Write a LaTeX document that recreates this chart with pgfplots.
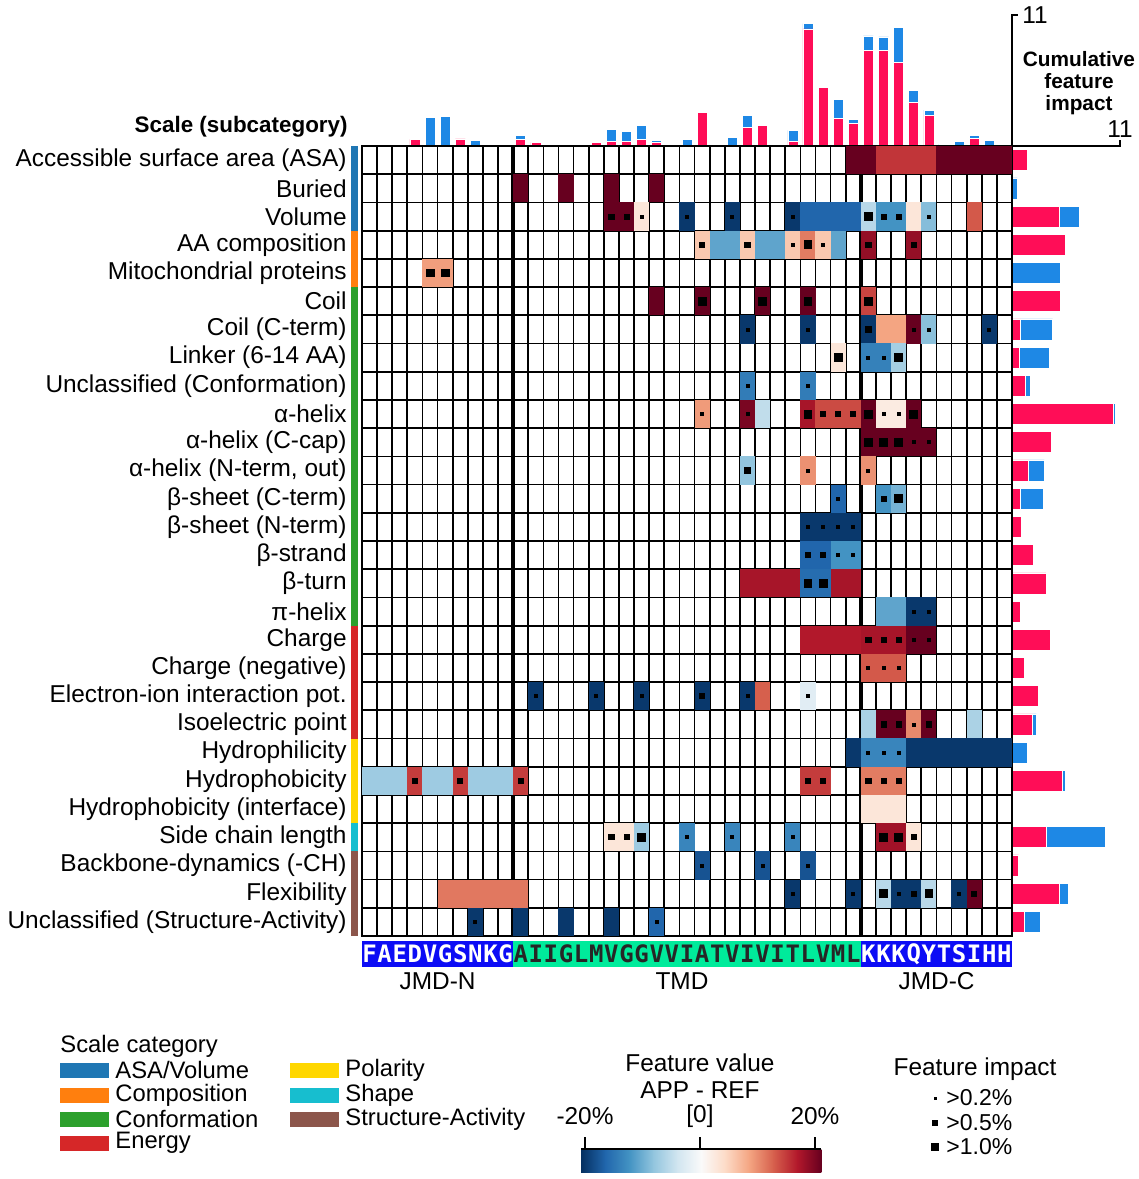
\documentclass[border=0pt]{standalone}
\usepackage{fontspec}
\setmainfont{Liberation Sans}
\setmonofont{DejaVu Sans Mono}
\usepackage{pgfplots}
\usepackage{pgfplotstable}
\pgfplotsset{compat=1.18}

\definecolor{shappink}{RGB}{255,13,87}
\definecolor{shapblue}{RGB}{30,136,229}
\definecolor{catasa}{RGB}{31,119,180}
\definecolor{catcomp}{RGB}{255,127,14}
\definecolor{catconf}{RGB}{44,160,44}
\definecolor{catener}{RGB}{214,39,40}
\definecolor{catpol}{RGB}{255,215,0}
\definecolor{catshape}{RGB}{23,190,207}
\definecolor{catsa}{RGB}{140,86,75}
\definecolor{jmdblue}{RGB}{12,12,245}
\definecolor{tmdgreen}{RGB}{0,235,155}
\definecolor{rb0}{RGB}{5,48,97}
\definecolor{rb1}{RGB}{33,102,172}
\definecolor{rb2}{RGB}{67,147,195}
\definecolor{rb3}{RGB}{146,197,222}
\definecolor{rb4}{RGB}{209,229,240}
\definecolor{rb5}{RGB}{250,250,250}
\definecolor{rb6}{RGB}{253,219,199}
\definecolor{rb7}{RGB}{244,165,130}
\definecolor{rb8}{RGB}{214,96,77}
\definecolor{rb9}{RGB}{178,24,43}
\definecolor{rb10}{RGB}{103,0,31}

\pgfplotsset{colormap={rdbu}{rgb255=(5,48,97) rgb255=(33,102,172) rgb255=(67,147,195) rgb255=(146,197,222) rgb255=(209,229,240) rgb255=(250,250,250) rgb255=(253,219,199) rgb255=(244,165,130) rgb255=(214,96,77) rgb255=(178,24,43) rgb255=(103,0,31)}}

\pgfdeclareplotmark{cell}{%
  \pgfpathrectangle{\pgfqpoint{-3.8pt}{-7.07pt}}{\pgfqpoint{7.6pt}{14.14pt}}%
  \pgfusepathqfill}

\pgfplotstableread{
r c v
0 32 1
0 33 1
0 34 0.72
0 35 0.72
0 36 0.72
0 37 0.72
0 38 1
0 39 1
0 40 1
0 41 1
0 42 1
1 10 1
1 13 1
1 16 1
1 19 1
2 16 1
2 17 1
2 18 0.13
2 21 -0.97
2 24 -0.97
2 28 -0.97
2 29 -0.8
2 30 -0.8
2 31 -0.8
2 32 -0.8
2 33 -0.28
2 34 -0.6
2 35 -0.6
2 36 0.13
2 37 -0.43
2 40 0.62
3 22 0.27
3 23 -0.53
3 24 -0.53
3 25 0.27
3 26 -0.53
3 27 -0.53
3 28 0.27
3 29 0.52
3 30 0.27
3 31 -0.53
3 33 0.88
3 36 0.88
4 4 0.42
4 5 0.42
5 19 1
5 22 1
5 26 1
5 29 1
5 33 0.68
6 25 -0.97
6 29 -0.97
6 33 -0.97
6 34 0.4
6 35 0.4
6 36 1
6 37 -0.42
6 41 -0.97
7 31 0.13
7 33 -0.68
7 34 -0.68
7 35 -0.34
8 25 -0.7
8 29 -0.7
9 22 0.43
9 25 0.95
9 26 -0.25
9 29 0.83
9 30 0.66
9 31 0.66
9 32 0.66
9 33 1
9 34 0.1
9 35 0.1
9 36 1
10 33 1
10 34 1
10 35 1
10 36 1
10 37 1
11 25 -0.4
11 29 0.46
11 33 0.46
12 31 -0.8
12 34 -0.6
12 35 -0.47
13 29 -0.97
13 30 -0.97
13 31 -0.97
13 32 -0.97
14 29 -0.8
14 30 -0.8
14 31 -0.6
14 32 -0.6
15 25 0.83
15 26 0.83
15 27 0.83
15 28 0.83
15 29 -0.77
15 30 -0.77
15 31 0.83
15 32 0.83
16 34 -0.53
16 35 -0.53
16 36 -0.97
16 37 -0.97
17 29 0.8
17 30 0.8
17 31 0.8
17 32 0.8
17 33 0.83
17 34 0.83
17 35 0.83
17 36 1
17 37 1
18 33 0.62
18 34 0.62
18 35 0.62
19 11 -0.97
19 15 -0.97
19 18 -0.97
19 22 -0.97
19 25 -0.97
19 26 0.6
19 29 -0.12
20 33 -0.32
20 34 1
20 35 1
20 36 0.48
20 37 1
20 40 -0.32
21 32 -0.97
21 33 -0.66
21 34 -0.66
21 35 -0.66
21 36 -0.97
21 37 -0.97
21 38 -0.97
21 39 -0.97
21 40 -0.97
21 41 -0.97
21 42 -0.97
22 0 -0.36
22 1 -0.36
22 2 -0.36
22 3 0.7
22 4 -0.36
22 5 -0.36
22 6 0.7
22 7 -0.36
22 8 -0.36
22 9 -0.36
22 10 0.7
22 29 0.7
22 30 0.7
22 33 0.52
22 34 0.52
22 35 0.52
23 33 0.13
23 34 0.13
23 35 0.13
24 16 0.13
24 17 0.13
24 18 -0.36
24 21 -0.66
24 24 -0.66
24 28 -0.66
24 34 0.85
24 35 0.85
24 36 0.13
25 22 -0.87
25 26 -0.87
25 29 -0.87
26 5 0.53
26 6 0.53
26 7 0.53
26 8 0.53
26 9 0.53
26 10 0.53
26 28 -0.97
26 32 -0.97
26 34 -0.28
26 35 -0.97
26 36 -0.97
26 37 -0.28
26 39 -0.97
26 40 1
27 7 -0.97
27 10 -0.97
27 13 -0.97
27 16 -0.97
27 19 -0.8
}\cells

\pgfplotstableread{
r c
2 18
2 21
2 24
2 28
2 37
3 28
3 30
6 25
6 29
6 36
6 37
6 41
7 33
7 34
8 25
8 29
9 22
9 25
9 34
9 35
10 36
10 37
11 29
11 33
12 31
13 29
13 30
13 31
13 32
14 31
14 32
16 36
16 37
17 36
17 37
18 33
18 34
18 35
19 11
19 15
19 18
19 25
19 29
20 36
21 33
21 34
21 35
24 21
24 24
24 28
25 22
25 26
25 29
26 28
26 32
26 35
26 39
27 7
27 19
}\impS

\pgfplotstableread{
r c
2 16
2 17
2 34
2 35
3 22
3 25
3 33
3 36
6 33
9 30
9 31
9 32
11 25
12 34
14 29
14 30
17 33
17 34
17 35
19 22
20 34
20 35
20 37
22 3
22 6
22 10
22 29
22 30
22 33
22 34
22 35
24 16
24 17
24 36
26 36
26 40
}\impM

\pgfplotstableread{
r c
2 33
3 29
4 4
4 5
5 22
5 26
5 29
5 33
7 31
7 35
9 29
9 33
9 36
10 33
10 34
10 35
12 35
15 29
15 30
24 18
24 34
24 35
26 34
26 37
}\impL

\pgfplotstableread{
c p b
0 0 0
1 0 0
2 0 0
3 0.56 0
4 0 2.4
5 0 2.5
6 0.6 0
7 0 0.47
8 0 0
9 0 0
10 0.56 0.36
11 0.3 0
12 0 0
13 0 0.15
14 0 0
15 0.3 0
16 0.39 0.98
17 0.39 0.81
18 0.56 1.14
19 0.28 0.19
20 0 0
21 0 0.56
22 2.79 0
23 0.05 0
24 0 0.73
25 1.56 0.98
26 1.73 0
27 0.14 0
28 0.39 0.92
29 9.83 0.44
30 4.91 0
31 2.32 1.59
32 1.93 0.33
33 8.04 1.2
34 8.04 1.12
35 7.04 2.9
36 3.69 1.0
37 2.6 0.42
38 0 0.15
39 0 0.39
40 0.61 0.31
41 0 0.47
42 0 0.15
}\topbars

\pgfplotstableread{
r p b
0 1.51 0
1 0 0.54
2 4.83 2.02
3 5.44 0
4 0 4.9
5 4.9 0
6 0.87 3.26
7 0.77 3.02
8 1.31 0.57
9 10.34 0.16
10 3.99 0
11 1.68 1.61
12 0.87 2.32
13 0.97 0
14 2.18 0
15 3.46 0
16 0.84 0
17 3.89 0
18 1.28 0
19 2.72 0
20 2.11 0.37
21 0 1.58
22 5.13 0.27
23 0 0
24 3.49 6.04
25 0.67 0
26 4.83 0.87
27 1.28 1.61
}\rightbars

\newcommand{\lbl}{\fontsize{12.2}{14}\selectfont}
\newcommand{\lgd}{\fontsize{11.9}{13}\selectfont}

\begin{document}
\begin{tikzpicture}

% ---------- top cumulative impact bars ----------
\begin{axis}[
  at={(181pt,-73pt)}, anchor=south west, scale only axis,
  width=325pt, height=65.5pt,
  xmin=0, xmax=43, ymin=0, ymax=11, hide axis, clip=false,
  ybar stacked, bar width=5pt,
]
\addplot[fill=shappink, draw=white, line width=0.3pt] table[x expr=\thisrow{c}+0.5, y=p] {\topbars};
\addplot[fill=shapblue, draw=white, line width=0.3pt] table[x expr=\thisrow{c}+0.5, y=b] {\topbars};
\draw[line width=0.9pt] (axis cs:43,0) -- (axis cs:43,11) -- ++(2.8pt,0);
\node[anchor=west, inner sep=0pt, font=\lbl] at ([xshift=5pt]axis cs:43,11) {11};
\end{axis}

% ---------- right cumulative impact bars ----------
\begin{axis}[
  at={(506pt,-468pt)}, anchor=south west, scale only axis,
  width=54pt, height=395pt,
  xmin=0, xmax=11, ymin=0, ymax=28, y dir=reverse, hide axis, clip=false,
  xbar stacked, bar width=10.5pt,
]
\addplot[fill=shappink, draw=white, line width=0.3pt] table[y expr=\thisrow{r}+0.5, x=p] {\rightbars};
\addplot[fill=shapblue, draw=white, line width=0.3pt] table[y expr=\thisrow{r}+0.5, x=b] {\rightbars};
\draw[line width=0.9pt] (axis cs:0,0) -- (axis cs:11,0) -- ++(0,2.8pt);
\node[anchor=south, inner sep=0pt, font=\lbl] at ([yshift=4pt]axis cs:11,0) {11};
\end{axis}

% ---------- heatmap ----------
\begin{axis}[
  at={(181pt,-468pt)}, anchor=south west, scale only axis,
  width=325pt, height=395pt,
  xmin=0, xmax=43, ymin=0, ymax=28, y dir=reverse,
  clip=false, axis on top,
  xtick={0,1,...,43}, xticklabels={},
  xmajorgrids=true,
  major grid style={black, line width=0.85pt},
  ytick={0.5,1.5,...,27.5},
  yticklabels={Accessible surface area (ASA),Buried,Volume,AA composition,Mitochondrial proteins,Coil,Coil (C-term),Linker (6-14 AA),Unclassified (Conformation),α-helix,α-helix (C-cap),{α-helix (N-term, out)},β-sheet (C-term),β-sheet (N-term),β-strand,β-turn,π-helix,Charge,Charge (negative),Electron-ion interaction pot.,Isoelectric point,Hydrophilicity,Hydrophobicity,Hydrophobicity (interface),Side chain length,Backbone-dynamics (-CH),Flexibility,Unclassified (Structure-Activity)},
  yticklabel style={font=\lbl, anchor=east, inner sep=0pt, xshift=-7.5pt},
  minor ytick={0,1,...,28},
  yminorgrids=true,
  minor grid style={black, line width=0.85pt},
  major tick length=0pt, minor tick length=0pt,
  axis line style={black, line width=0.85pt},
  colormap name=rdbu, point meta min=-1, point meta max=1,
]
\addplot[scatter, only marks, mark=cell, point meta=explicit]
  table[x expr=\thisrow{c}+0.5, y expr=\thisrow{r}+0.5, meta=v] {\cells};
\addplot[only marks, mark=square*, mark size=0.75pt, black]
  table[x expr=\thisrow{c}+0.5, y expr=\thisrow{r}+0.5] {\impS};
\addplot[only marks, mark=square*, mark size=1.3pt, black]
  table[x expr=\thisrow{c}+0.5, y expr=\thisrow{r}+0.5] {\impM};
\addplot[only marks, mark=square*, mark size=1.95pt, black]
  table[x expr=\thisrow{c}+0.5, y expr=\thisrow{r}+0.5] {\impL};
\draw[line width=1.8pt] (axis cs:10,0) -- (axis cs:10,28);
\draw[line width=1.8pt] (axis cs:33,0) -- (axis cs:33,28);
% category strip
\fill[catasa] (axis cs:-0.73,0) rectangle (axis cs:-0.26,3);
\fill[catcomp] (axis cs:-0.73,3) rectangle (axis cs:-0.26,5);
\fill[catconf] (axis cs:-0.73,5) rectangle (axis cs:-0.26,17);
\fill[catener] (axis cs:-0.73,17) rectangle (axis cs:-0.26,21);
\fill[catpol] (axis cs:-0.73,21) rectangle (axis cs:-0.26,24);
\fill[catshape] (axis cs:-0.73,24) rectangle (axis cs:-0.26,25);
\fill[catsa] (axis cs:-0.73,25) rectangle (axis cs:-0.26,28);
\end{axis}

% ---------- sequence ----------
\fill[jmdblue] (181pt,-470.5pt) rectangle (256.58pt,-483.5pt);
\fill[tmdgreen] (256.58pt,-470.5pt) rectangle (430.42pt,-483.5pt);
\fill[jmdblue] (430.42pt,-470.5pt) rectangle (506pt,-483.5pt);
\foreach \ch [count=\i from 0] in {F,A,E,D,V,G,S,N,K,G}
  \node[text=white, font=\fontsize{12}{12}\ttfamily\bfseries, inner sep=0pt] at ({181pt+(\i+0.5)*7.5581pt},-477pt) {\ch};
\foreach \ch [count=\i from 10] in {A,I,I,G,L,M,V,G,G,V,V,I,A,T,V,I,V,I,T,L,V,M,L}
  \node[text=black!85, font=\fontsize{12}{12}\ttfamily\bfseries, inner sep=0pt] at ({181pt+(\i+0.5)*7.5581pt},-477pt) {\ch};
\foreach \ch [count=\i from 33] in {K,K,K,Q,Y,T,S,I,H,H}
  \node[text=white, font=\fontsize{12}{12}\ttfamily\bfseries, inner sep=0pt] at ({181pt+(\i+0.5)*7.5581pt},-477pt) {\ch};
\node[font=\lbl] at (218.8pt,-490.5pt) {JMD-N};
\node[font=\lbl] at (341pt,-490.5pt) {TMD};
\node[font=\lbl] at (468.3pt,-490.5pt) {JMD-C};

% ---------- titles ----------
\node[anchor=east, inner sep=0pt, font=\fontsize{11.2}{13}\selectfont\bfseries] at (174pt,-63.5pt) {Scale (subcategory)};
\node[align=center, inner sep=0pt, font=\fontsize{10.4}{11}\selectfont\bfseries] at (539.5pt,-41.5pt) {Cumulative\\feature\\impact};

% ---------- scale category legend ----------
\node[anchor=west, inner sep=0pt, font=\lgd] at (30pt,-523pt) {Scale category};
\fill[catasa] (30pt,-531.25pt) rectangle (54.5pt,-538.75pt);
\node[anchor=west, inner sep=0pt, font=\lgd] at (57.5pt,-535pt) {ASA/Volume};
\fill[catcomp] (30pt,-543.75pt) rectangle (54.5pt,-551.25pt);
\node[anchor=west, inner sep=0pt, font=\lgd] at (57.5pt,-547.5pt) {Composition};
\fill[catconf] (30pt,-555.75pt) rectangle (54.5pt,-563.25pt);
\node[anchor=west, inner sep=0pt, font=\lgd] at (57.5pt,-559.5pt) {Conformation};
\fill[catener] (30pt,-567.75pt) rectangle (54.5pt,-575.25pt);
\node[anchor=west, inner sep=0pt, font=\lgd] at (57.5pt,-571.5pt) {Energy};
\fill[catpol] (145pt,-531.25pt) rectangle (169.5pt,-538.75pt);
\node[anchor=west, inner sep=0pt, font=\lgd] at (172.5pt,-535pt) {Polarity};
\fill[catshape] (145pt,-543.75pt) rectangle (169.5pt,-551.25pt);
\node[anchor=west, inner sep=0pt, font=\lgd] at (172.5pt,-547.5pt) {Shape};
\fill[catsa] (145pt,-555.75pt) rectangle (169.5pt,-563.25pt);
\node[anchor=west, inner sep=0pt, font=\lgd] at (172.5pt,-559.5pt) {Structure-Activity};

% ---------- colour bar ----------
\foreach \a/\b [count=\k from 0] in {rb0/rb1,rb1/rb2,rb2/rb3,rb3/rb4,rb4/rb5,rb5/rb6,rb6/rb7,rb7/rb8,rb8/rb9,rb9/rb10}
  \shade[left color=\a, right color=\b] ({290.5pt+\k*12pt},-574.5pt) rectangle ({290.5pt+(\k+1)*12pt+0.2pt},-586pt);
\draw[line width=0.9pt] (290.5pt,-574.3pt) -- (410.5pt,-574.3pt);
\foreach \xx in {292.5,350,407.5}
  \draw[line width=0.6pt] (\xx pt,-568.5pt) -- (\xx pt,-574.3pt);
\node[font=\lbl] at (292.5pt,-558pt) {-20\%};
\node[font=\lbl] at (350pt,-558pt) {[0]};
\node[font=\lbl] at (407.5pt,-558pt) {20\%};
\node[font=\lbl] at (350pt,-545pt) {APP - REF};
\node[font=\lbl] at (350pt,-531.5pt) {Feature value};

% ---------- impact legend ----------
\node[font=\lbl] at (487.5pt,-534.5pt) {Feature impact};
\fill[black] (467.5pt,-549pt) +(-0.75pt,-0.75pt) rectangle +(0.75pt,0.75pt);
\node[anchor=west, inner sep=0pt, font=\fontsize{11.5}{13}\selectfont] at (473pt,-549pt) {>0.2\%};
\fill[black] (467.5pt,-561.5pt) +(-1.3pt,-1.3pt) rectangle +(1.3pt,1.3pt);
\node[anchor=west, inner sep=0pt, font=\fontsize{11.5}{13}\selectfont] at (473pt,-561.5pt) {>0.5\%};
\fill[black] (467.5pt,-573.5pt) +(-1.95pt,-1.95pt) rectangle +(1.95pt,1.95pt);
\node[anchor=west, inner sep=0pt, font=\fontsize{11.5}{13}\selectfont] at (473pt,-573.5pt) {>1.0\%};

\pgfresetboundingbox
\useasboundingbox (0pt,0pt) rectangle (569.5pt,-589.5pt);
\end{tikzpicture}
\end{document}
